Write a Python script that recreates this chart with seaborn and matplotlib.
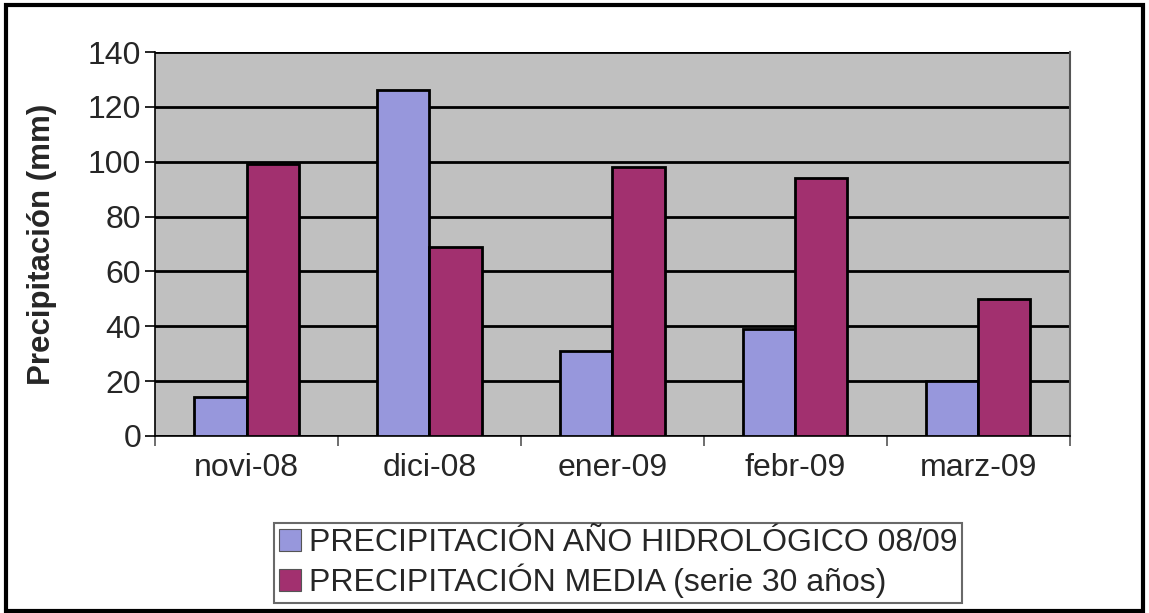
import numpy as np
import pandas as pd
import matplotlib
matplotlib.use("Agg")
import matplotlib.pyplot as plt
from matplotlib.patches import Rectangle, Patch
from matplotlib.ticker import FixedLocator
import seaborn as sns

months = ["novi-08", "dici-08", "ener-09", "febr-09", "marz-09"]
precip_0809 = [14, 126, 31, 39, 20]
precip_media = [99, 69, 98, 94, 50]
series_names = ["PRECIPITACIÓN AÑO HIDROLÓGICO 08/09", "PRECIPITACIÓN MEDIA (serie 30 años)"]
y_ticks = [0, 20, 40, 60, 80, 100, 120, 140]

colors = ["#9797DC", "#A2306F"]

df = pd.DataFrame({
    "mes": months * 2,
    "valor": precip_0809 + precip_media,
    "serie": [series_names[0]] * len(months) + [series_names[1]] * len(months),
})

sns.set_style("white")
plt.rcParams["font.family"] = ["Liberation Sans", "DejaVu Sans"]

fig = plt.figure(figsize=(11.49, 6.13), dpi=100)
ax = fig.add_axes([0.135, 0.289, 0.796, 0.626])
ax.set_facecolor("#C0C0C0")

sns.barplot(data=df, x="mes", y="valor", hue="serie", hue_order=series_names,
            palette=colors, width=0.57, edgecolor="black", linewidth=2,
            saturation=1, ax=ax, legend=False, zorder=3)

ax.set_ylim(0, 140)
ax.set_xlim(-0.5, len(months) - 0.5)
ax.set_yticks(y_ticks)
ax.yaxis.grid(True, color="black", linewidth=2, zorder=0)
ax.set_axisbelow(True)
ax.xaxis.grid(False)

ax.set_xlabel("")
ax.set_ylabel("Precipitación (mm)", fontsize=22.5, fontweight="bold", labelpad=22)

ax.tick_params(axis="y", labelsize=23, length=7, width=1.2, direction="out",
               left=True, color="black", pad=3)
ax.tick_params(axis="x", which="major", labelsize=23, length=0, pad=12)
ax.xaxis.set_minor_locator(FixedLocator(np.arange(-0.5, len(months), 1.0)))
ax.tick_params(axis="x", which="minor", length=7, width=1.2, direction="out",
               bottom=True, color="#555555")

for side in ["left", "bottom"]:
    ax.spines[side].set_color("black")
    ax.spines[side].set_linewidth(1.2)
ax.spines["top"].set_visible(False)
ax.spines["right"].set_color("#555555")
ax.spines["right"].set_linewidth(1.5)

handles = [Patch(facecolor=c, edgecolor="#555555", linewidth=0.8) for c in colors]
leg = fig.legend(handles, series_names, loc="center", bbox_to_anchor=(0.538, 0.081),
                 fontsize=23, frameon=True, fancybox=False, edgecolor="#444444",
                 handlelength=0.7, handleheight=0.7, handletextpad=0.25,
                 borderpad=0.15, labelspacing=0.18, borderaxespad=0)
leg.get_frame().set_linewidth(1.5)

fig.patches.append(Rectangle((0.005, 0.004), 0.99, 0.988, transform=fig.transFigure,
                             fill=False, edgecolor="black", linewidth=3))

fig.savefig("out.png", dpi=100, facecolor="white")
